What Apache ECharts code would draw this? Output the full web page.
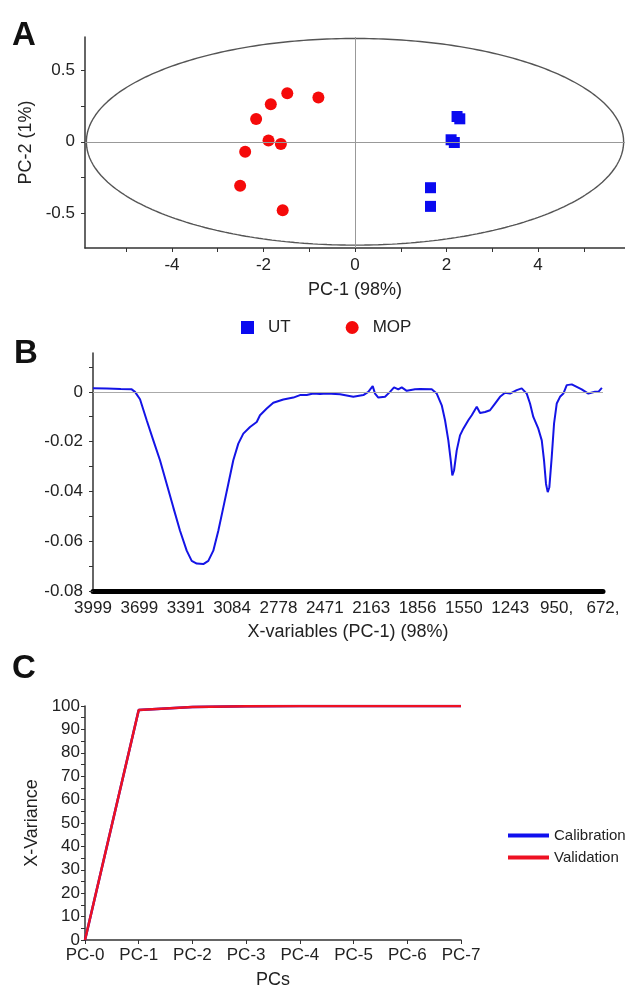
<!DOCTYPE html>
<html><head><meta charset="utf-8">
<script src="https://cdn.jsdelivr.net/npm/echarts@6/dist/echarts.min.js"></script>
<style>html,body{margin:0;padding:0;background:#fff}#c{width:625px;height:990px}</style>
</head><body><div id="c"></div>
<script>
// ---- Panel A: PCA scores ----
const utX  = [2.23, 2.29, 2.10, 2.17, 1.65, 1.65];
const utY  = [0.176, 0.160, 0.014, -0.005, -0.32, -0.45];
const mopX = [-1.48, -1.84, -2.16, -1.89, -1.62, -2.40, -2.51, -1.58, -0.80];
const mopY = [0.338, 0.262, 0.158, 0.009, -0.016, -0.069, -0.306, -0.477, 0.308];
const ellipseA = 5.87;   // Hotelling ellipse semi-axis along PC-1
const ellipseB = 0.72;   // semi-axis along PC-2

// ---- Panel B: PC-1 loadings ----
const loadingTickLabels = ['3999','3699','3391','3084','2778','2471','2163','1856','1550','1243','950,','672,'];
const loadingPos = [0, 0.3, 0.6, 0.835, 0.906, 1.014, 1.158, 1.301, 1.445, 1.590, 1.732, 1.877, 2.021, 2.129, 2.237, 2.379, 2.487, 2.595, 2.703, 2.811, 2.918, 3.026, 3.134, 3.242, 3.387, 3.531, 3.602, 3.747, 3.889, 4.105, 4.321, 4.465, 4.610, 4.752, 4.896, 5.041, 5.328, 5.615, 5.831, 5.938, 6.033, 6.083, 6.154, 6.299, 6.406, 6.493, 6.585, 6.659, 6.767, 6.946, 7.053, 7.306, 7.414, 7.522, 7.593, 7.664, 7.716, 7.750, 7.787, 7.845, 7.916, 7.987, 8.095, 8.169, 8.277, 8.348, 8.456, 8.563, 8.671, 8.779, 8.887, 8.995, 9.139, 9.247, 9.355, 9.426, 9.497, 9.605, 9.679, 9.728, 9.771, 9.808, 9.843, 9.894, 9.944, 10.002, 10.073, 10.145, 10.218, 10.326, 10.434, 10.541, 10.684, 10.828, 10.900, 10.976];
const loadingVal = [0.0014, 0.0013, 0.0011, 0.0010, 0.0000, -0.0030, -0.0114, -0.0195, -0.0275, -0.0370, -0.0464, -0.0558, -0.0638, -0.0679, -0.0690, -0.0692, -0.0679, -0.0638, -0.0558, -0.0464, -0.0370, -0.0275, -0.0208, -0.0168, -0.0141, -0.0121, -0.0094, -0.0067, -0.0044, -0.0031, -0.0023, -0.0013, -0.0013, -0.0007, -0.0009, -0.0007, -0.0010, -0.0020, -0.0013, 0.0000, 0.0023, -0.0007, -0.0023, -0.0020, 0.0000, 0.0018, 0.0010, 0.0018, 0.0004, 0.0010, 0.0011, 0.0010, -0.0007, -0.0054, -0.0114, -0.0195, -0.0275, -0.0336, -0.0316, -0.0235, -0.0175, -0.0148, -0.0114, -0.0094, -0.0060, -0.0085, -0.0081, -0.0074, -0.0047, -0.0020, -0.0004, -0.0007, 0.0007, 0.0014, -0.0007, -0.0047, -0.0101, -0.0148, -0.0195, -0.0275, -0.0370, -0.0403, -0.0383, -0.0262, -0.0128, -0.0047, -0.0020, -0.0007, 0.0027, 0.0030, 0.0020, 0.0010, -0.0007, 0.0000, 0.0000, 0.0016];

// ---- Panel C: explained X-variance ----
const pcCategories = ['PC-0','PC-1','PC-2','PC-3','PC-4','PC-5','PC-6','PC-7'];
const calibration = [0, 98.3, 99.6, 99.9, 100, 100, 100, 100];
const validation  = [0, 98.3, 99.6, 99.9, 100, 100, 100, 100];

const FONT = 'Liberation Sans, Arial, Helvetica, sans-serif';
const TXT = '#222';
const AX = '#333';

const ellipsePts = [];
for (let i = 0; i <= 360; i++) {
  const t = i * Math.PI / 180;
  ellipsePts.push([ellipseA * Math.cos(t), ellipseB * Math.sin(t)]);
}
const zip = (a, b) => a.map((v, i) => [v, b[i]]);

const chart = echarts.init(document.getElementById('c'), null, {renderer: 'canvas'});
const axisBase = {
  axisLine: {show: true, onZero: false, lineStyle: {color: AX, width: 1.5}},
  axisTick: {show: true, length: 4, lineStyle: {color: AX, width: 1}},
  splitLine: {show: false},
  nameTextStyle: {color: TXT, fontSize: 18, fontFamily: FONT},
  nameLocation: 'middle'
};
const lbl = (extra) => Object.assign({color: TXT, fontSize: 17, fontFamily: FONT}, extra);

chart.setOption({
  animation: false,
  textStyle: {fontFamily: FONT},
  graphic: [
    {type: 'text', left: 12, top: 19, style: {text: 'A', font: 'bold 33px ' + FONT, fill: '#111'}},
    {type: 'text', left: 14, top: 337, style: {text: 'B', font: 'bold 33px ' + FONT, fill: '#111'}},
    {type: 'text', left: 12, top: 652, style: {text: 'C', font: 'bold 33px ' + FONT, fill: '#111'}}
  ],
  grid: [
    {left: 85, top: 37, width: 540, height: 211},
    {left: 93, top: 353, width: 510, height: 238},
    {left: 85, top: 706, width: 376, height: 238}
  ],
  legend: [
    {data: ['UT', 'MOP'], left: 236, top: 314, itemWidth: 13, itemHeight: 13, itemGap: 55,
     textStyle: {color: TXT, fontSize: 17, fontFamily: FONT, padding: [0, 0, 0, 9]}},
    {data: ['Calibration', 'Validation'], orient: 'vertical', left: 503, top: 823, icon: 'rect',
     itemWidth: 41, itemHeight: 4, itemGap: 7,
     textStyle: {color: TXT, fontSize: 15, fontFamily: FONT}}
  ],
  xAxis: [
    Object.assign({}, axisBase, {
      type: 'value', gridIndex: 0, min: -5.9, max: 5.9, splitNumber: 12, minInterval: 1, maxInterval: 1,
      name: 'PC-1 (98%)', nameGap: 33,
      axisLabel: lbl({margin: 9, showMinLabel: false, showMaxLabel: false,
        formatter: v => (Math.round(v) % 2 === 0 ? String(Math.round(v)) : '')})
    }),
    Object.assign({}, axisBase, {
      type: 'value', gridIndex: 1, min: 0, max: 11, interval: 1,
      name: 'X-variables (PC-1) (98%)', nameGap: 32,
      axisLine: {show: true, onZero: false, lineStyle: {color: '#000', width: 5}},
      axisTick: {show: false},
      axisLabel: lbl({margin: 9, formatter: v => loadingTickLabels[Math.round(v)] || ''})
    }),
    Object.assign({}, axisBase, {
      type: 'category', gridIndex: 2, data: pcCategories, boundaryGap: false,
      name: 'PCs', nameGap: 31,
      axisLabel: lbl({margin: 7})
    })
  ],
  yAxis: [
    Object.assign({}, axisBase, {
      type: 'value', gridIndex: 0, min: -0.74, max: 0.73, splitNumber: 6, minInterval: 0.25, maxInterval: 0.25,
      name: 'PC-2 (1%)', nameGap: 42,
      axisLabel: lbl({margin: 10, showMinLabel: false, showMaxLabel: false,
        formatter: v => (Math.round(v * 4) % 2 === 0 ? String(Math.round(v * 4) / 4) : '')})
    }),
    Object.assign({}, axisBase, {
      type: 'value', gridIndex: 1, min: -0.08, max: 0.0156, splitNumber: 10, minInterval: 0.01, maxInterval: 0.01,
      axisLabel: lbl({margin: 10, showMaxLabel: false,
        formatter: v => { const k = Math.round(v * 100); return k % 2 === 0 ? (k === 0 ? '0' : (k / 100).toFixed(2)) : ''; }})
    }),
    Object.assign({}, axisBase, {
      type: 'value', gridIndex: 2, min: 0, max: 100, interval: 5,
      name: 'X-Variance', nameGap: 43,
      axisLabel: lbl({margin: 5, formatter: v => (v % 10 === 0 ? String(v) : '')})
    })
  ],
  series: [
    {type: 'line', name: 'ellipse', xAxisIndex: 0, yAxisIndex: 0, data: ellipsePts, symbol: 'none',
     lineStyle: {color: '#555', width: 1.4}, silent: true, z: 1,
     markLine: {silent: true, symbol: 'none', label: {show: false},
       lineStyle: {color: '#999', width: 1, type: 'solid'},
       data: [{xAxis: 0}, {yAxis: 0}]}},
    {type: 'scatter', name: 'UT', xAxisIndex: 0, yAxisIndex: 0, data: zip(utX, utY),
     symbol: 'rect', symbolSize: 11, itemStyle: {color: '#0a0af0', opacity: 1}, z: 3},
    {type: 'scatter', name: 'MOP', xAxisIndex: 0, yAxisIndex: 0, data: zip(mopX, mopY),
     symbol: 'circle', symbolSize: 12, itemStyle: {color: '#f50a0a', opacity: 1}, z: 3},
    {type: 'line', name: 'loading', xAxisIndex: 1, yAxisIndex: 1, data: zip(loadingPos, loadingVal),
     symbol: 'none', lineStyle: {color: '#1414e6', width: 2}, z: 3,
     markLine: {silent: true, symbol: 'none', label: {show: false},
       lineStyle: {color: '#aaa', width: 1, type: 'solid'}, data: [{yAxis: 0}]}},
    {type: 'line', name: 'Calibration', xAxisIndex: 2, yAxisIndex: 2, data: calibration,
     symbol: 'none', itemStyle: {color: '#1010ee'}, lineStyle: {color: '#1010ee', width: 2.5}},
    {type: 'line', name: 'Validation', xAxisIndex: 2, yAxisIndex: 2, data: validation,
     symbol: 'none', itemStyle: {color: '#ee1122'}, lineStyle: {color: '#ee1122', width: 2.5}}
  ]
});
</script></body></html>
